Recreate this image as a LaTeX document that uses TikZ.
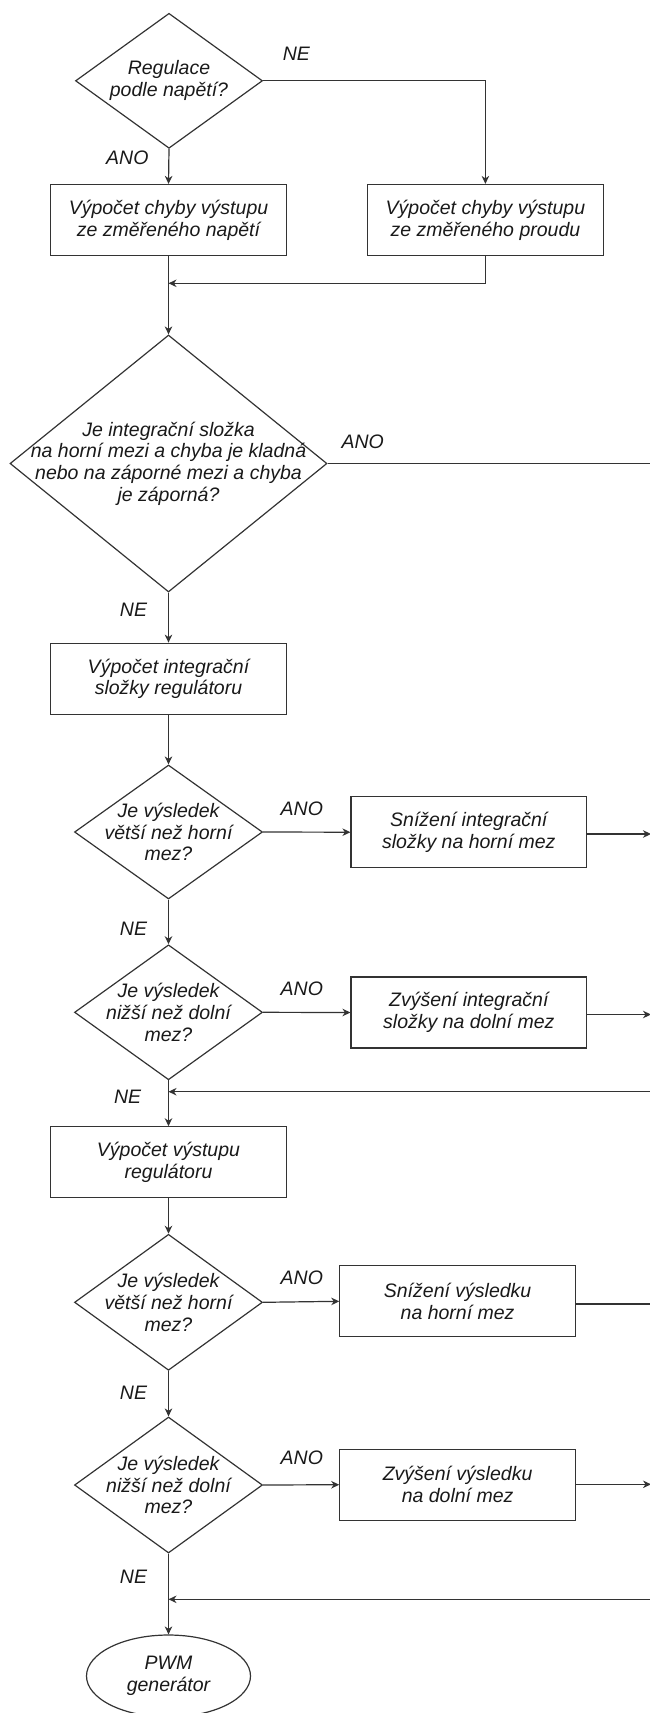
\documentclass[tikz,border=0pt]{standalone}
\usepackage{fontspec}
\setmainfont{Liberation Sans}
\usetikzlibrary{shapes.geometric,arrows.meta}
\begin{document}
\begin{tikzpicture}[x=1pt,y=-1pt,
  every node/.style={font=\fontsize{19.5}{21.7}\selectfont\itshape, text=black!90},
  ln/.style={draw=black!80, line width=1.2pt},
  arr/.style={ln, -{Stealth[length=8pt,width=7.5pt,inset=2.5pt]}},
  boxnode/.style={draw=black!80, line width=1.2pt, rectangle, minimum width=235.5pt, minimum height=71pt, inner sep=0pt, align=center},
  dianode/.style={draw=black!80, line width=1.2pt, diamond, inner sep=0pt},
  txt/.style={align=center, inner sep=0pt},
  lbl/.style={inner sep=0pt}
]
\useasboundingbox (0,0) rectangle (650,1713);
\clip (0,0) rectangle (650,1713);

% nodes
\node[dianode, minimum width=187pt, minimum height=135pt] (d1) at (169,80.8) {};
\node[txt] (t1) at (d1.center) {Regulace\\podle napětí?};
\node[boxnode] (b1) at (168.5,220) {Výpočet chyby výstupu\\ze změřeného napětí};
\node[boxnode] (b2) at (485.4,220) {Výpočet chyby výstupu\\ze změřeného proudu};

\node[dianode, minimum width=317pt, minimum height=257pt] (d2) at (168.5,463.5) {};
\node[txt] (t2) at (d2.center) {Je integrační složka\\na horní mezi a chyba je kladná\\nebo na záporné mezi a chyba\\je záporná?};

\node[boxnode] (b3) at (168.5,678.7) {Výpočet integrační\\složky regulátoru};

\node[dianode, minimum width=188pt, minimum height=134pt] (d3) at (168.5,832) {};
\node[txt] (t3) at (d3.center) {Je výsledek\\větší než horní\\mez?};
\node[boxnode] (b4) at (468.8,832.2) {Snížení integrační\\složky na horní mez};

\node[dianode, minimum width=188pt, minimum height=135pt] (d4) at (168.5,1012.3) {};
\node[txt] (t4) at (d4.center) {Je výsledek\\nižší než dolní\\mez?};
\node[boxnode] (b5) at (468.8,1012.5) {Zvýšení integrační\\složky na dolní mez};

\node[boxnode] (b6) at (168.5,1162.3) {Výpočet výstupu\\regulátoru};

\node[dianode, minimum width=188pt, minimum height=136pt] (d5) at (168.5,1302.3) {};
\node[txt] (t5) at (d5.center) {Je výsledek\\větší než horní\\mez?};
\node[boxnode] (b7) at (457.6,1301.3) {Snížení výsledku\\na horní mez};

\node[dianode, minimum width=188pt, minimum height=136pt] (d6) at (168.5,1485) {};
\node[txt] (t6) at (d6.center) {Je výsledek\\nižší než dolní\\mez?};
\node[boxnode] (b8) at (457.6,1484.7) {Zvýšení výsledku\\na dolní mez};

\node[draw=black!80, line width=1.2pt, ellipse, minimum width=164pt, minimum height=82pt, inner sep=0pt, align=center] (e) at (168.5,1676) {PWM\\generátor};

% junction / edge coordinates
\coordinate (j1) at (168.5,283.3);
\coordinate (r2) at (652,463.5);
\coordinate (r4) at (651,834);
\coordinate (r5) at (651,1014.5);
\coordinate (m1r) at (652,1091.7);
\coordinate (m1) at (168.5,1091.7);
\coordinate (r7) at (652,1304);
\coordinate (r8) at (651,1484.3);
\coordinate (m2r) at (652,1599.3);
\coordinate (m2) at (168.5,1599.3);

% connectors
\draw[arr] (d1.south) -- (b1.north);
\draw[arr] (d1.east) -| (b2.north);
\draw[arr] (b2.south) |- (j1);
\draw[arr] (b1.south) -- (d2.north);
\draw[ln] (d2.east) -- (r2);
\draw[arr] (d2.south) -- (b3.north);
\draw[arr] (b3.south) -- (d3.north);
\draw[arr] (d3.east) -- (b4.west);
\draw[arr] (b4.east |- r4) -- (r4);
\draw[arr] (d3.south) -- (d4.north);
\draw[arr] (d4.east) -- (b5.west);
\draw[arr] (b5.east |- r5) -- (r5);
\draw[arr] (m1r) -- (m1);
\draw[arr] (d4.south) -- (b6.north);
\draw[arr] (b6.south) -- (d5.north);
\draw[arr] (d5.east) -- (b7.west);
\draw[ln] (b7.east |- r7) -- (r7);
\draw[arr] (d5.south) -- (d6.north);
\draw[arr] (d6.east) -- (b8.west);
\draw[arr] (b8.east |- r8) -- (r8);
\draw[arr] (m2r) -- (m2);
\draw[arr] (d6.south) -- (e.north);

% labels
\node[lbl] (l1) at (296.4,53.3) {NE};
\node[lbl] (l2) at (127.3,157.7) {ANO};
\node[lbl] (l3) at (362.7,441.7) {ANO};
\node[lbl] (l4) at (133.5,610) {NE};
\node[lbl] (l5) at (301.8,808.3) {ANO};
\node[lbl] (l6) at (133.5,928.3) {NE};
\node[lbl] (l7) at (301.8,988.3) {ANO};
\node[lbl] (l8) at (127.7,1096.7) {NE};
\node[lbl] (l9) at (301.8,1277.7) {ANO};
\node[lbl] (l10) at (133.5,1392.3) {NE};
\node[lbl] (l11) at (301.8,1457.3) {ANO};
\node[lbl] (l12) at (133.5,1576.7) {NE};
\end{tikzpicture}
\end{document}
